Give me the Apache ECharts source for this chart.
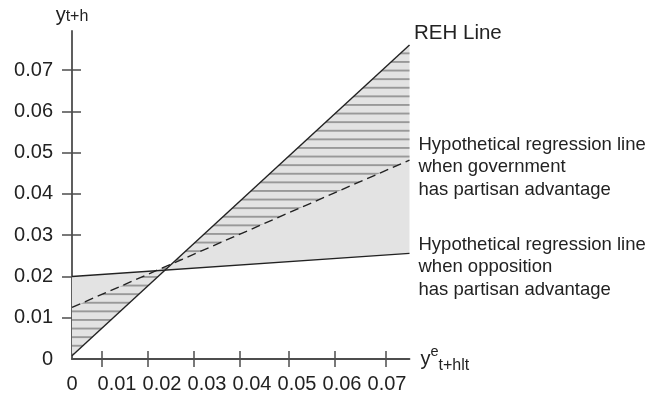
<!DOCTYPE html>
<html>
<head>
<meta charset="utf-8">
<script src="https://cdn.jsdelivr.net/npm/echarts@6/dist/echarts.min.js"></script>
<style>
  html, body { margin: 0; padding: 0; background: #fff; }
  #chart { width: 648px; height: 397px; }
</style>
</head>
<body>
<div id="chart"></div>
<script>
// Expected inflation (x) against realised inflation (y): the REH 45-degree line
// and two hypothetical regression lines, drawn from their end points.
const xEnds = [0, 0.075];
const rehLine = [0.0008, 0.0761];
const govLine = [0.0125, 0.0482];
const oppLine = [0.0200, 0.0256];

// Axis tick values
const xLabelValues = [0, 0.01, 0.02, 0.03, 0.04, 0.05, 0.06, 0.07];
const xTickMarks = [0.0067, 0.0169, 0.0271, 0.0373, 0.0482, 0.0584, 0.0698];
const yLabelValues = [0, 0.01, 0.02, 0.03, 0.04, 0.05, 0.06, 0.07];
const yTickMarks = [0.01, 0.02, 0.03, 0.04, 0.05, 0.06, 0.07];

const seriesNames = ['REH Line',
  'Hypothetical regression line\nwhen government\nhas partisan advantage',
  'Hypothetical regression line\nwhen opposition\nhas partisan advantage'];

const FONT = '"Liberation Sans", Arial, Helvetica, sans-serif';
const INK = '#222';
const AXIS = '#4d4d4d';

const pts = arr => xEnds.map((x, i) => [x, arr[i]]);
const fmt = v => (v === 0 ? '0' : v.toFixed(2));

// Horizontal hatching used between the REH line and the government line
const hatch = document.createElement('canvas');
hatch.width = 4;
hatch.height = 43;
(function () {
  const c = hatch.getContext('2d');
  c.fillStyle = '#999999';
  [1.7, 10.3, 18.9, 27.5, 36.1].forEach(y => c.fillRect(0, y - 0.9, 4, 1.9));
})();

const chart = echarts.init(document.getElementById('chart'), null, { renderer: 'canvas' });

const axisCommon = {
  type: 'value',
  splitLine: { show: false }
};

chart.setOption({
  animation: false,
  backgroundColor: '#fff',
  textStyle: { fontFamily: FONT, color: INK },
  grid: { left: 72, right: 238.5, top: 31, bottom: 38, containLabel: false },
  xAxis: [
    Object.assign({}, axisCommon, {
      min: 0, max: 0.075, position: 'bottom',
      axisLine: { show: true, onZero: false, lineStyle: { color: AXIS, width: 1.8 } },
      axisTick: { show: true, inside: false, length: 8, customValues: xTickMarks,
        lineStyle: { color: AXIS, width: 1.5 } },
      axisLabel: { show: true, customValues: xLabelValues, formatter: fmt, margin: 15,
        fontSize: 20, color: INK, fontFamily: FONT },
      name: '{y|y}{sup|e}{sub|t+hlt}',
      nameLocation: 'end',
      nameGap: 11,
      nameTextStyle: {
        fontFamily: FONT, color: INK,
        rich: {
          y: { fontSize: 20, lineHeight: 30, verticalAlign: 'middle', fontFamily: FONT, color: INK },
          sup: { fontSize: 14.5, lineHeight: 14, verticalAlign: 'top', fontFamily: FONT, color: INK },
          sub: { fontSize: 16, lineHeight: 15, verticalAlign: 'bottom', fontFamily: FONT, color: INK }
        }
      }
    }),
    Object.assign({}, axisCommon, {
      min: 0, max: 0.075, position: 'bottom',
      axisLine: { show: false, onZero: false },
      axisTick: { show: true, inside: true, length: 8, customValues: xTickMarks,
        lineStyle: { color: AXIS, width: 1.5 } },
      axisLabel: { show: false }
    })
  ],
  yAxis: [
    Object.assign({}, axisCommon, {
      min: 0, max: 0.0795, position: 'left',
      axisLine: { show: true, onZero: false, lineStyle: { color: AXIS, width: 1.8 } },
      axisTick: { show: true, inside: false, length: 10, customValues: yTickMarks,
        lineStyle: { color: AXIS, width: 1.5 } },
      axisLabel: { show: true, customValues: yLabelValues, formatter: fmt, margin: 19,
        fontSize: 20, color: INK, fontFamily: FONT },
      name: '{y|y}{sub|t+h}',
      nameLocation: 'end',
      nameGap: 6,
      nameTextStyle: {
        fontFamily: FONT, color: INK,
        rich: {
          y: { fontSize: 20, lineHeight: 20, verticalAlign: 'top', fontFamily: FONT, color: INK },
          sub: { fontSize: 16, lineHeight: 15, padding: [9, 0, 0, 0], verticalAlign: 'bottom',
            fontFamily: FONT, color: INK }
        }
      }
    }),
    Object.assign({}, axisCommon, {
      min: 0, max: 0.0795, position: 'left',
      axisLine: { show: false, onZero: false },
      axisTick: { show: true, inside: true, length: 9, customValues: yTickMarks,
        lineStyle: { color: AXIS, width: 1.5 } },
      axisLabel: { show: false }
    })
  ],
  series: [
    {
      // shaded wedges between the REH line and the two regression lines
      type: 'custom',
      z: 1,
      silent: true,
      data: [[xEnds[0], rehLine[0]]],
      renderItem: function (params, api) {
        const c = (x, y) => api.coord([x, y]);
        const x0 = xEnds[0], x1 = xEnds[1];
        return {
          type: 'group',
          children: [
            {
              type: 'polygon',
              shape: { points: [c(x0, oppLine[0]), c(x1, oppLine[1]), c(x1, rehLine[1]), c(x0, rehLine[0])] },
              style: { fill: '#e3e3e3', stroke: null }
            },
            {
              type: 'polygon',
              shape: { points: [c(x0, govLine[0]), c(x1, govLine[1]), c(x1, rehLine[1]), c(x0, rehLine[0])] },
              style: { fill: { image: hatch, repeat: 'repeat' }, stroke: null }
            }
          ]
        };
      }
    },
    {
      name: seriesNames[0],
      type: 'line',
      z: 3,
      data: pts(rehLine),
      symbol: 'none',
      lineStyle: { color: INK, width: 1.4 },
      endLabel: { show: true, formatter: seriesNames[0], distance: 0, offset: [4.5, -12],
        fontSize: 20.5, color: INK, fontFamily: FONT, align: 'left' }
    },
    {
      name: seriesNames[1],
      type: 'line',
      z: 3,
      data: pts(govLine),
      symbol: 'none',
      lineStyle: { color: INK, width: 1.4, type: [9, 5] },
      endLabel: { show: true, formatter: seriesNames[1], distance: 0, offset: [9, 7],
        fontSize: 18.5, lineHeight: 22.5, color: INK, fontFamily: FONT, align: 'left' }
    },
    {
      name: seriesNames[2],
      type: 'line',
      z: 3,
      data: pts(oppLine),
      symbol: 'none',
      lineStyle: { color: INK, width: 1.4 },
      endLabel: { show: true, formatter: seriesNames[2], distance: 0, offset: [9, 14],
        fontSize: 18.5, lineHeight: 22.5, color: INK, fontFamily: FONT, align: 'left' }
    }
  ]
});
</script>
</body>
</html>
